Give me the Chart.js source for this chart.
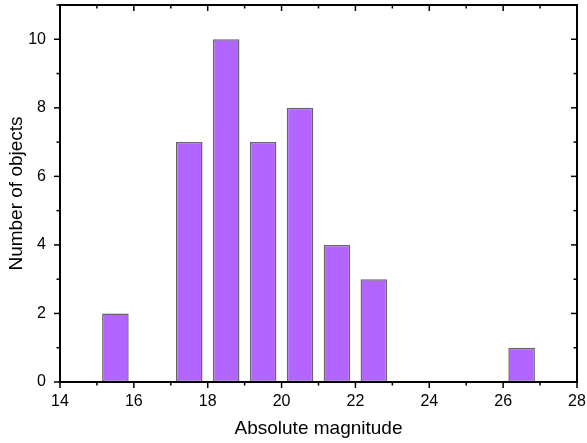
<!DOCTYPE html>
<html>
<head>
<meta charset="utf-8">
<script src="https://cdn.jsdelivr.net/npm/chart.js@4.4.1/dist/chart.umd.min.js"></script>
<style>
  html, body { margin: 0; padding: 0; background: #fff; }
  #wrap { width: 587px; height: 443px; }
</style>
</head>
<body>
<div id="wrap"><canvas id="histChart"></canvas></div>
<script>
// histogram bins (centres) and counts
const binCenters = [15.5, 17.5, 18.5, 19.5, 20.5, 21.5, 22.5, 26.5];
const counts = [2, 7, 10, 7, 8, 4, 3, 1];

const xMin = 14, xMax = 28;
const yMin = 0, yMax = 11;
const xTitle = "Absolute magnitude";
const yTitle = "Number of objects";

// draws the box plus major/minor ticks: outward on bottom/left, inward on top/right
const frameTicks = {
  id: "frameTicks",
  afterDraw(chart) {
    const { ctx, chartArea: a, scales: { x, y } } = chart;
    const seg = (x1, y1, x2, y2) => {
      ctx.beginPath(); ctx.moveTo(x1, y1); ctx.lineTo(x2, y2); ctx.stroke();
    };
    ctx.save();
    ctx.strokeStyle = "#000";
    ctx.lineWidth = 1.5;
    x.ticks.forEach(t => {
      const px = x.getPixelForValue(t.value);
      const len = t.value % 2 === 0 ? 6 : 3.5;
      seg(px, a.bottom, px, a.bottom + len);
      seg(px, a.top, px, a.top + len);
    });
    y.ticks.forEach(t => {
      const py = y.getPixelForValue(t.value);
      const len = t.value % 2 === 0 ? 6 : 3.5;
      seg(a.left, py, a.left - len, py);
      seg(a.right, py, a.right - len, py);
    });
    ctx.lineWidth = 2;
    ctx.strokeRect(a.left, a.top, a.right - a.left, a.bottom - a.top);
    ctx.restore();
  }
};

const evenLabel = v => (v % 2 === 0 ? String(v) : "");

document.addEventListener("DOMContentLoaded", function () {
  const ctx = document.getElementById("histChart").getContext("2d");
  new Chart(ctx, {
    type: "bar",
    data: {
      datasets: [{
        data: binCenters.map((c, i) => ({ x: c, y: counts[i] })),
        backgroundColor: "#b266ff",
        borderColor: "#666666",
        borderWidth: 1.5,
        borderSkipped: false,
        barPercentage: 0.72,
        categoryPercentage: 1.0
      }]
    },
    options: {
      responsive: true,
      maintainAspectRatio: false,
      animation: false,
      layout: { padding: { top: 5, right: 10, left: 0, bottom: 0 } },
      plugins: { legend: { display: false }, tooltip: { enabled: false } },
      scales: {
        x: {
          type: "linear",
          min: xMin, max: xMax,
          offset: false,
          grid: { display: false, drawTicks: false },
          border: { display: false },
          ticks: {
            stepSize: 1, autoSkip: false, maxRotation: 0,
            callback: evenLabel,
            color: "#000", padding: 10,
            font: { family: "Liberation Sans", size: 16 }
          },
          title: {
            display: true, text: xTitle, color: "#000",
            padding: { top: 4, bottom: 3 },
            font: { family: "Liberation Sans", size: 19 }
          },
          afterFit(scale) {
            scale.height = 61;
            scale.paddingLeft = 0;
            scale.paddingRight = 0;
          }
        },
        y: {
          min: yMin, max: yMax,
          grid: { display: false, drawTicks: false },
          border: { display: false },
          ticks: {
            stepSize: 1, autoSkip: false,
            callback: evenLabel,
            color: "#000", padding: 14,
            font: { family: "Liberation Sans", size: 16 }
          },
          title: {
            display: true, text: yTitle, color: "#000",
            padding: { top: 5, bottom: 4 },
            font: { family: "Liberation Sans", size: 19 }
          },
          afterFit(scale) {
            scale.width = 60;
            scale.paddingTop = 0;
            scale.paddingBottom = 0;
          }
        }
      }
    },
    plugins: [frameTicks]
  });
});
</script>
</body>
</html>
